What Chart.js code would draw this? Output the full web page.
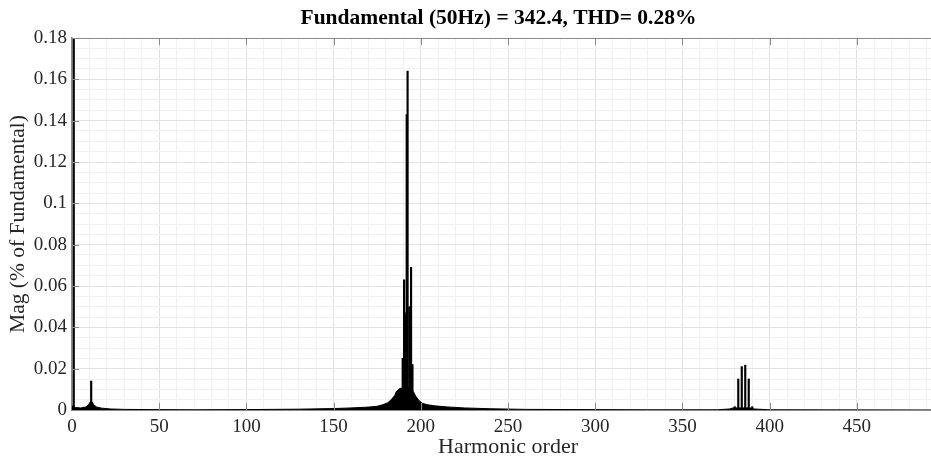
<!DOCTYPE html>
<html>
<head>
<meta charset="utf-8">
<script src="https://cdn.jsdelivr.net/npm/chart.js@4.4.1/dist/chart.umd.min.js"></script>
<style>
  html, body { margin: 0; padding: 0; background: #fff; }
  #wrap { width: 931px; height: 459px; position: relative; }
</style>
</head>
<body>
<div id="wrap"><canvas id="fft"></canvas></div>
<script>
// FFT spectrum values (harmonic order vs % of fundamental)
const titleText = 'Fundamental (50Hz) = 342.4, THD= 0.28%';

// single lines
const spikeOrder = [1, 11, 189.6, 190.4, 191.2, 191.9, 192.4, 193.4, 194.4, 195.2, 380, 382, 384, 386, 388, 390];
const spikeMag   = [100, 0.014, 0.025, 0.063, 0.047, 0.143, 0.164, 0.05, 0.069, 0.022, 0.0016, 0.015, 0.021, 0.0217, 0.015, 0.0016];

// leakage skirt below the lines
const skirtOrder = [0, 2, 5, 8, 9.5, 10.5, 11.5, 12.5, 14, 17,
    22, 30, 45, 70, 100, 130, 150, 160, 170, 175,
    178, 181, 183, 185, 186, 188, 191, 194, 196, 197,
    199, 201, 204, 208, 215, 225, 240, 260, 290, 330,
    370, 377, 379, 389, 391, 400, 500];
const skirtMag = [0.002, 0.0012, 0.001, 0.0015, 0.0025, 0.004, 0.004, 0.0025, 0.0015, 0.0009,
    0.0005, 0.0003, 0.0002, 0.0001, 0.0002, 0.0004, 0.0007, 0.001, 0.0014, 0.0018,
    0.0025, 0.0035, 0.005, 0.007, 0.009, 0.0105, 0.0105, 0.0105, 0.0085, 0.0068,
    0.0045, 0.0032, 0.0025, 0.002, 0.0015, 0.001, 0.0006, 0.0003, 0.0002, 0.0001,
    0.0001, 0.0005, 0.001, 0.001, 0.0005, 0.0001, 0];

// axes run to 500 but the page edge cuts them at about 492.5
const xMax = 500;
const xVisible = 492.5;
const yMax = 0.18;

const serif = "'Liberation Serif', 'Times New Roman', serif";
const textColor = '#262626';
const axisColor = '#8a8a8a';

const isMajorX = v => Math.abs(v % 50) < 1e-6;
const isMajorY = v => Math.abs(v / 0.02 - Math.round(v / 0.02)) < 1e-6;

// stretch the x axis past the right edge so the figure looks cropped
const widenPlugin = {
    id: 'widen',
    afterLayout(chart) {
        const x = chart.scales.x;
        x.right = x.left + (chart.width - x.left) * xMax / xVisible;
        x.width = x.right - x.left;
        x.configure();
        chart.chartArea.right = x.right;
        chart.chartArea.width = x.right - chart.chartArea.left;
    }
};

// MATLAB style box: top edge plus inward tick marks
const boxPlugin = {
    id: 'box',
    afterDatasetsDraw(chart) {
        const { ctx, chartArea: a, scales: { x, y } } = chart;
        ctx.save();
        ctx.strokeStyle = axisColor;
        ctx.lineWidth = 1;
        ctx.beginPath();
        ctx.moveTo(a.left, a.top + 0.5);
        ctx.lineTo(a.right, a.top + 0.5);
        x.ticks.forEach(t => {
            if (!isMajorX(t.value) || t.value === 0) return;
            const px = Math.round(x.getPixelForValue(t.value)) + 0.5;
            ctx.moveTo(px, a.bottom);
            ctx.lineTo(px, a.bottom - 7);
            ctx.moveTo(px, a.top);
            ctx.lineTo(px, a.top + 7);
        });
        y.ticks.forEach(t => {
            if (!isMajorY(t.value) || t.value === 0) return;
            const py = Math.round(y.getPixelForValue(t.value)) + 0.5;
            ctx.moveTo(a.left, py);
            ctx.lineTo(a.left + 7, py);
        });
        ctx.stroke();
        ctx.restore();
    }
};

const config = {
    type: 'bar',
    data: {
        datasets: [
            {
                type: 'bar',
                data: spikeOrder.map((h, i) => ({ x: h, y: spikeMag[i] })),
                backgroundColor: '#000',
                borderWidth: 0,
                barThickness: 1.5,
                order: 0
            },
            {
                type: 'line',
                data: skirtOrder.map((h, i) => ({ x: h, y: skirtMag[i] })),
                borderColor: '#000',
                backgroundColor: '#000',
                borderWidth: 1,
                pointRadius: 0,
                tension: 0,
                fill: 'origin',
                order: 1
            }
        ]
    },
    options: {
        responsive: true,
        maintainAspectRatio: false,
        animation: false,
        layout: { padding: 0 },
        plugins: {
            legend: { display: false },
            tooltip: { enabled: false },
            title: {
                display: true,
                text: titleText,
                fullSize: false,
                color: '#000',
                font: { family: serif, size: 21.5, weight: 'bold', lineHeight: 1 },
                padding: { top: 8, bottom: 8.5 }
            }
        },
        scales: {
            x: {
                type: 'linear',
                min: 0,
                max: xMax,
                offset: false,
                afterFit: s => { s.height = 49; },
                border: { color: axisColor, width: 1 },
                grid: {
                    offset: false,
                    drawTicks: false,
                    color: c => isMajorX(c.tick.value) ? '#e2e2e2' : '#f1f1f1'
                },
                ticks: {
                    stepSize: 10,
                    autoSkip: false,
                    maxRotation: 0,
                    padding: 6,
                    color: textColor,
                    font: { family: serif, size: 19 },
                    callback: v => (isMajorX(v) && v < xMax) ? String(v) : ''
                },
                title: {
                    display: true,
                    text: 'Harmonic order',
                    color: textColor,
                    font: { family: serif, size: 22, lineHeight: 1.2 },
                    padding: { top: 0, bottom: -1 }
                }
            },
            y: {
                min: 0,
                max: yMax,
                afterFit: s => { s.width = 72; },
                border: { color: axisColor, width: 1.5 },
                grid: {
                    drawTicks: false,
                    color: c => isMajorY(c.tick.value) ? '#e2e2e2' : '#f1f1f1'
                },
                ticks: {
                    stepSize: 0.005,
                    autoSkip: false,
                    padding: 5,
                    color: textColor,
                    font: { family: serif, size: 19 },
                    callback: v => isMajorY(v) ? String(parseFloat(v.toFixed(2))) : ''
                },
                title: {
                    display: true,
                    text: 'Mag (% of Fundamental)',
                    color: textColor,
                    font: { family: serif, size: 21.5, lineHeight: 1.2 },
                    padding: { top: 5, bottom: 0 }
                }
            }
        }
    },
    plugins: [widenPlugin, boxPlugin]
};

new Chart(document.getElementById('fft').getContext('2d'), config);
</script>
</body>
</html>
